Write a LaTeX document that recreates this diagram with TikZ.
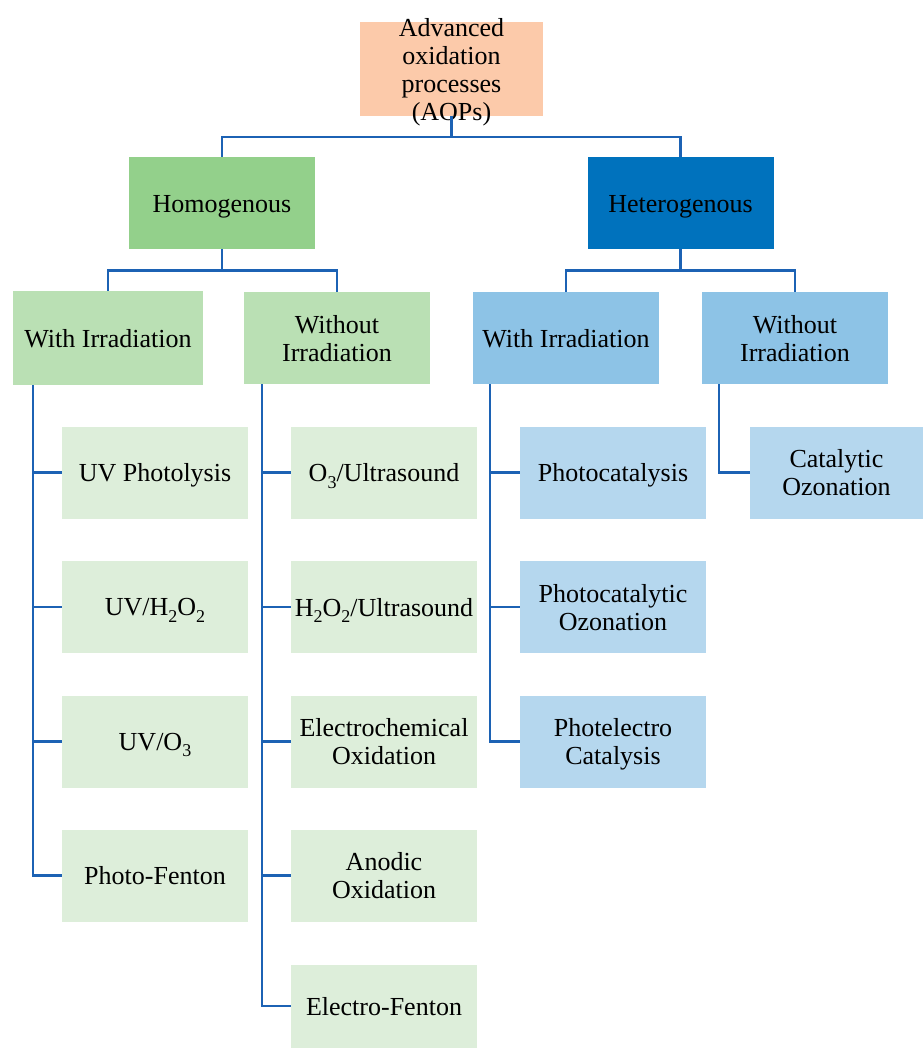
\documentclass[tikz,border=0pt]{standalone}
\usepackage{fontspec}
\setmainfont{Liberation Serif}
\definecolor{peach}{RGB}{252,202,170}
\definecolor{homog}{RGB}{147,208,139}
\definecolor{heterog}{RGB}{0,114,189}
\definecolor{lgreen}{RGB}{186,224,180}
\definecolor{llgreen}{RGB}{221,238,218}
\definecolor{mblue}{RGB}{141,195,230}
\definecolor{lblue}{RGB}{181,215,238}
\definecolor{conn}{RGB}{28,98,180}
\newcommand{\sbs}[1]{\raisebox{-0.25em}{\fontsize{18}{18}\selectfont #1}}
\tikzset{
  box/.style={inner sep=0pt, outer sep=0pt, minimum width=186pt, minimum height=92pt, align=center, font=\fontsize{26}{28}\selectfont, text=black, text depth=0pt},
  link/.style={draw=conn, line width=2.8pt}
}
\begin{document}
\begin{tikzpicture}[x=1pt,y=-1pt]
\useasboundingbox (0,0) rectangle (923,1048);
% root
\node[box, fill=peach, minimum width=183pt, minimum height=94pt] (aop) at (451.5,69) {};
\node[box] (aoptext) at (aop.center) {Advanced\\oxidation\\processes\\(AOPs)};
% level 1
\node[box, fill=homog] (homo) at (222,203.5) {Homogenous};
\node[box, fill=heterog] (hetero) at (680.5,203.5) {Heterogenous};
% level 2
\node[box, fill=lgreen, minimum width=190pt, minimum height=94pt] (hwi) at (108,338) {With Irradiation};
\node[box, fill=lgreen] (hwo) at (337,338) {Without\\Irradiation};
\node[box, fill=mblue] (ewi) at (566,338) {With Irradiation};
\node[box, fill=mblue] (ewo) at (795,338) {Without\\Irradiation};
% leaves homogeneous with irradiation
\node[box, fill=llgreen] (a1) at (155,472.5) {UV Photolysis};
\node[box, fill=llgreen] (a2) at (155,607) {UV/H\sbs{2}O\sbs{2}};
\node[box, fill=llgreen] (a3) at (155,741.5) {UV/O\sbs{3}};
\node[box, fill=llgreen] (a4) at (155,875.5) {Photo-Fenton};
% leaves homogeneous without irradiation
\node[box, fill=llgreen] (b1) at (384,472.5) {O\sbs{3}/Ultrasound};
\node[box, fill=llgreen] (b2) at (384,607) {H\sbs{2}O\sbs{2}/Ultrasound};
\node[box, fill=llgreen] (b3) at (384,741.5) {Electrochemical\\Oxidation};
\node[box, fill=llgreen] (b4) at (384,875.5) {Anodic\\Oxidation};
\node[box, fill=llgreen, minimum height=83pt] (b5) at (384,1006) {Electro-Fenton};
% leaves heterogeneous with irradiation
\node[box, fill=lblue] (c1) at (613,472.5) {Photocatalysis};
\node[box, fill=lblue] (c2) at (613,607) {Photocatalytic\\Ozonation};
\node[box, fill=lblue] (c3) at (613,741.5) {Photelectro\\Catalysis};
% heterogeneous without irradiation
\node[box, fill=lblue, minimum width=173pt] (d1) at (836.5,472.5) {Catalytic\\Ozonation};
% connectors
\draw[link] (aop.south) -- ++(0,21) -| (homo.north);
\draw[link] (aop.south) -- ++(0,21) -| (hetero.north);
\draw[link] (homo.south) -- ++(0,21) -| (hwi.north);
\draw[link] (homo.south) -- ++(0,21) -| (hwo.north);
\draw[link] (hetero.south) -- ++(0,21) -| (ewi.north);
\draw[link] (hetero.south) -- ++(0,21) -| (ewo.north);
\foreach \n in {a1,a2,a3,a4} \draw[link] ([xshift=20pt]hwi.south west) |- (\n.west);
\foreach \n in {b1,b2,b3,b4,b5} \draw[link] ([xshift=18pt]hwo.south west) |- (\n.west);
\foreach \n in {c1,c2,c3} \draw[link] ([xshift=17pt]ewi.south west) |- (\n.west);
\draw[link] ([xshift=17pt]ewo.south west) |- (d1.west);
\end{tikzpicture}
\end{document}
